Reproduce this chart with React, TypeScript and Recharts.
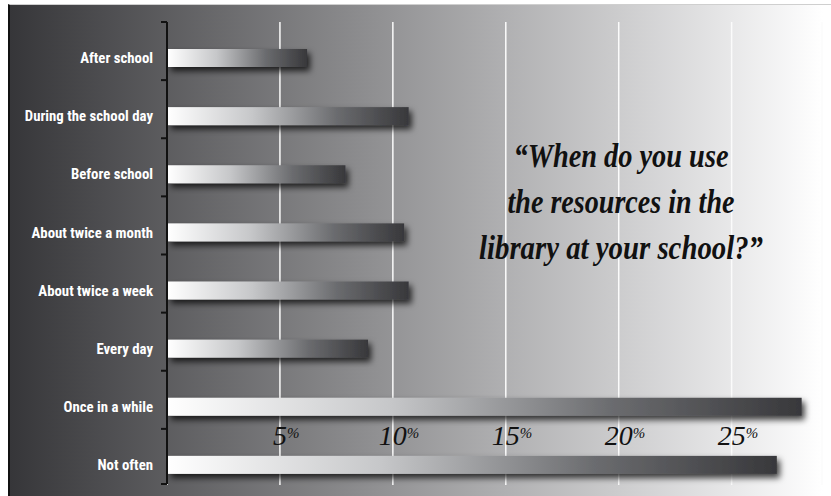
import { Bar, BarChart, CartesianGrid, XAxis, YAxis } from "recharts";

const categories = [
  "After school",
  "During the school day",
  "Before school",
  "About twice a month",
  "About twice a week",
  "Every day",
  "Once in a while",
  "Not often",
];
const percents = [6.2, 10.7, 7.9, 10.5, 10.7, 8.9, 28.1, 27.0];
const xTicks = [5, 10, 15, 20, 25];
const questionLines = [
  "\u201cWhen do you use",
  "the resources in the",
  "library at your school?\u201d",
];

const data = categories.map((name, i) => ({ name, value: percents[i] }));

const W = 831;
const H = 496;
const MARGIN = { top: 29, right: 9, bottom: 1, left: 0 };
const AXIS_X = 167;
const BAND = (H - MARGIN.top - MARGIN.bottom - 1) / categories.length;
const LIFT = 7; // axis / grid sit a little above the bar bands

const SERIF = "'Liberation Serif', 'Times New Roman', serif";
const NARROW = "'Liberation Sans Narrow', 'Roboto Condensed', Roboto, sans-serif";

function CategoryTick(props: any) {
  const { y, payload, index } = props;
  const top = y - BAND / 2 - LIFT;
  const last = index === categories.length - 1;
  return (
    <g>
      {index === 0 && (
        <line
          x1={AXIS_X}
          x2={AXIS_X}
          y1={top}
          y2={top + BAND * categories.length - 3}
          stroke="#111"
          strokeWidth={2}
        />
      )}
      <line x1={AXIS_X - 6} x2={AXIS_X} y1={top} y2={top} stroke="#111" strokeWidth={2} />
      {last && (
        <line
          x1={AXIS_X - 6}
          x2={AXIS_X}
          y1={top + BAND - 3}
          y2={top + BAND - 3}
          stroke="#111"
          strokeWidth={2}
        />
      )}
      <text
        x={AXIS_X - 14}
        y={y}
        dy="0.35em"
        textAnchor="end"
        fill="#fff"
        fontFamily={NARROW}
        fontWeight={700}
        fontSize={14.8}
      >
        {payload.value}
      </text>
    </g>
  );
}

function PercentTick(props: any) {
  const { x, y, payload } = props;
  const label = String(payload.value);
  const base = y - 49;
  return (
    <g>
      <text
        x={x}
        y={base}
        textAnchor="middle"
        fontFamily={SERIF}
        fontStyle="italic"
        fontSize={28}
        fill="#111"
      >
        {label}
      </text>
      <text
        x={x + label.length * 7}
        y={base - 7}
        fontFamily={SERIF}
        fontStyle="italic"
        fontSize={15}
        fill="#111"
      >
        %
      </text>
    </g>
  );
}

function GridLine(props: any) {
  const { x1, y1, y2 } = props;
  return (
    <line
      x1={x1}
      x2={x1}
      y1={y1 - LIFT}
      y2={y2 - 9}
      stroke="#fbfbfb"
      strokeWidth={1.5}
    />
  );
}

function ShinyBar(props: any) {
  const { x, y, width, height } = props;
  if (!width) return null;
  return (
    <rect
      x={x + 1}
      y={y}
      width={Math.max(width - 1, 0)}
      height={height}
      fill="url(#barFade)"
      filter="url(#barShadow)"
    />
  );
}

export default function App() {
  return (
    <div style={{ position: "absolute", left: 0, top: 0, width: W, height: H, background: "#fff" }}>
      <div
        style={{
          position: "absolute",
          left: 8,
          top: 4,
          width: W - 10,
          height: H - 5,
          borderTop: "1px solid #cfcfcf",
          borderLeft: "2px solid #111",
          background: "linear-gradient(90deg, #363639 0%, #e8e8e9 88%, #ffffff 99%)",
        }}
      />
      <BarChart
        width={W}
        height={H}
        data={data}
        layout="vertical"
        margin={MARGIN}
        style={{ position: "absolute", left: 0, top: 0 }}
      >
        <defs>
          <linearGradient id="barFade" x1="0" y1="0" x2="1" y2="0">
            <stop offset="0%" stopColor="#ffffff" />
            <stop offset="35%" stopColor="#c6c7c9" />
            <stop offset="70%" stopColor="#6b6c6f" />
            <stop offset="100%" stopColor="#38383b" />
          </linearGradient>
          <filter id="barShadow" x="-10%" y="-40%" width="125%" height="220%">
            <feDropShadow dx={3} dy={4} stdDeviation={3} floodColor="#000" floodOpacity={0.75} />
          </filter>
        </defs>
        <CartesianGrid horizontal={false} vertical={GridLine} />
        <XAxis
          type="number"
          domain={[0, 29]}
          ticks={xTicks}
          height={1}
          axisLine={false}
          tickLine={false}
          tickSize={0}
          tickMargin={0}
          tick={PercentTick}
          interval={0}
        />
        <YAxis
          type="category"
          dataKey="name"
          width={AXIS_X}
          axisLine={false}
          tickLine={false}
          tick={CategoryTick}
          interval={0}
        />
        <Bar dataKey="value" barSize={18} shape={ShinyBar} isAnimationActive={false} />
      </BarChart>
      <svg
        width={W}
        height={H}
        style={{ position: "absolute", left: 0, top: 0, pointerEvents: "none" }}
      >
        {questionLines.map((line, i) => (
          <text
            key={line}
            x={621}
            y={167 + i * 46}
            textAnchor="middle"
            fontFamily={SERIF}
            fontStyle="italic"
            fontWeight={700}
            fontSize={34}
            fill="#111"
            textLength={[215, 227, 284][i]}
            lengthAdjust="spacingAndGlyphs"
          >
            {line}
          </text>
        ))}
      </svg>
    </div>
  );
}
